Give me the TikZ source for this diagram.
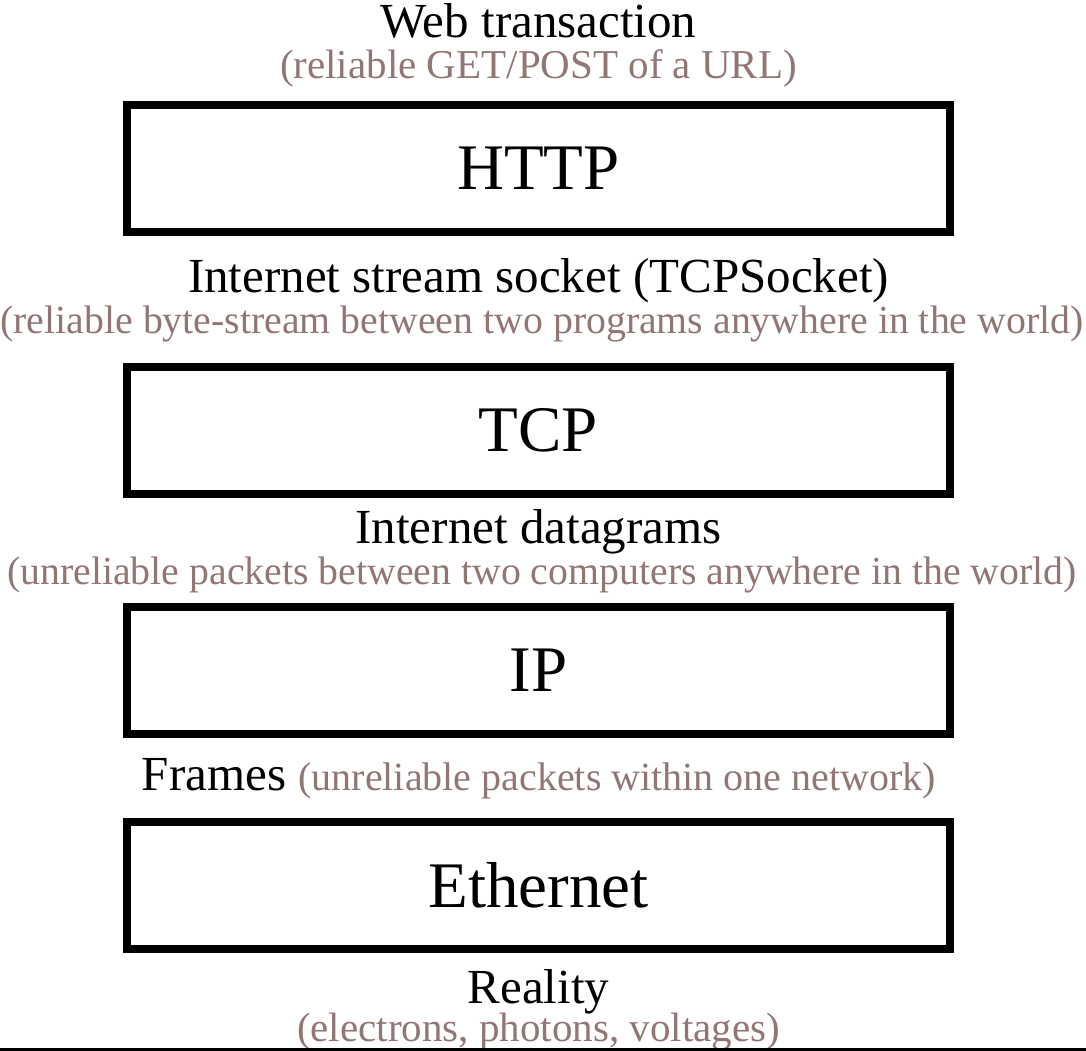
\documentclass[tikz,border=0pt]{standalone}
\usepackage{fontspec}
\setmainfont{Liberation Serif}
\usepackage{xcolor}
\definecolor{muted}{RGB}{145,118,118}

\begin{document}
\begin{tikzpicture}[x=0.5pt, y=-0.5pt,
    layer/.style={draw, line width=4pt, minimum width=411.5pt, minimum height=63.5pt, inner sep=0pt,
        font=\fontsize{32.5}{36}\selectfont},
    lbl/.style={anchor=base, inner sep=0pt, font=\fontsize{24.5}{28}\selectfont},
    sub/.style={anchor=base, inner sep=0pt, text=muted, font=\fontsize{20.5}{24}\selectfont},
    subwide/.style={sub, font=\fontsize{19.9}{24}\selectfont}
    ]
    \useasboundingbox (0,0) rectangle (1086,1050);

    \node[lbl] (web) at (538.5,37) {Web transaction};
    \node[sub] (websub) at (538.5,78) {(reliable GET/POST of a URL)};
    \node[layer] (http) at (538.5,168) {HTTP};

    \node[lbl] (sock) at (538.5,292) {Internet stream socket (TCPSocket)};
    \node[subwide] (socksub) at (542,333) {(reliable byte-stream between two programs anywhere in the world)};
    \node[layer] (tcp) at (538.5,430.5) {TCP};

    \node[lbl] (dgram) at (538.5,543) {Internet datagrams};
    \node[subwide] (dgramsub) at (542,584) {(unreliable packets between two computers anywhere in the world)};
    \node[layer] (ip) at (538.5,670.5) {IP};

    \node[lbl] (frames) at (539,790) {Frames {\color{muted}\fontsize{20}{24}\selectfont(unreliable packets within one network)}};
    \node[layer] (eth) at (538.5,885.5) {Ethernet};

    \node[lbl] (reality) at (538.5,1003) {Reality};
    \node[sub] (realitysub) at (538.5,1041) {(electrons, photons, voltages)};
    %
    \draw[line width=1.5pt] (0,1049) -- (1086,1049);
\end{tikzpicture}
\end{document}
